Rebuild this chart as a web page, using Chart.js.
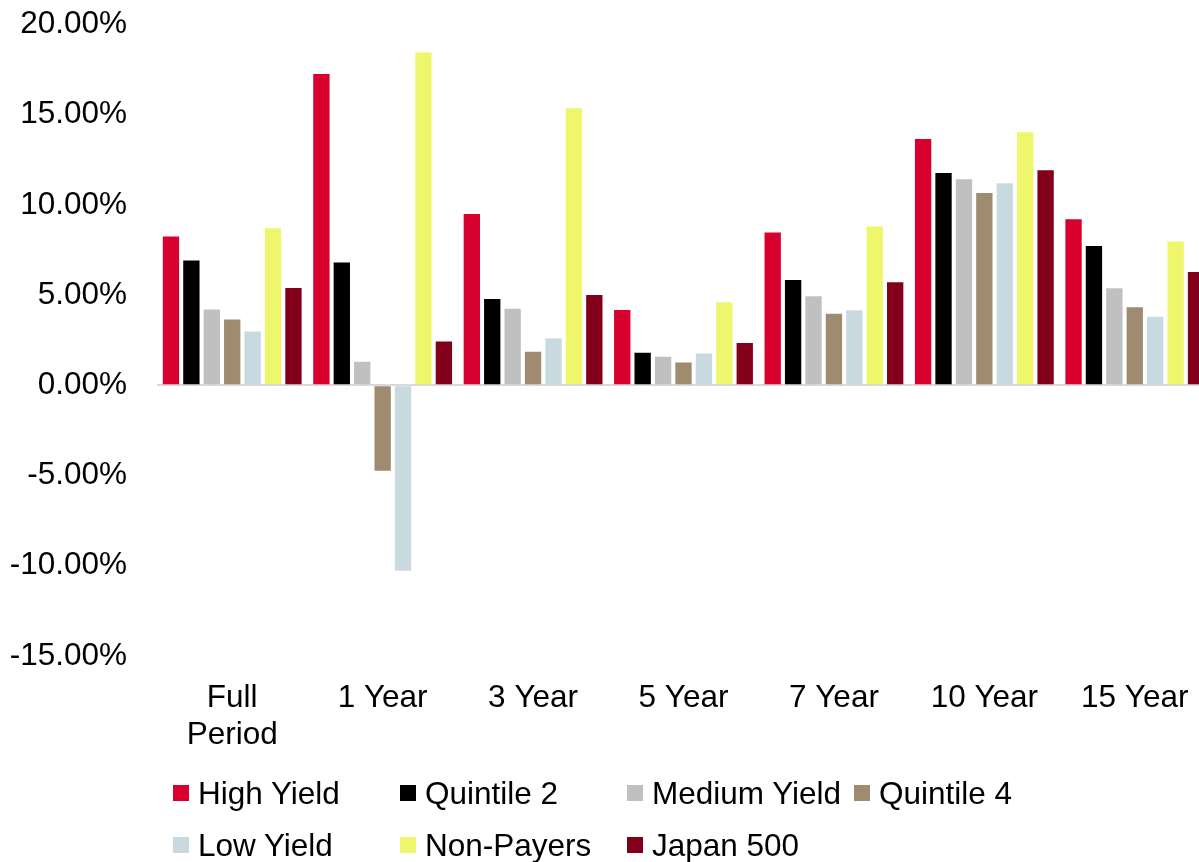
<!DOCTYPE html>
<html>
<head>
<meta charset="utf-8">
<script src="https://cdn.jsdelivr.net/npm/chart.js@4/dist/chart.umd.min.js"></script>
<style>
  html, body { margin: 0; padding: 0; background: #fff; overflow: hidden; }
  #wrap { position: absolute; left: 0; top: -24px; width: 1214px; height: 794px; }
  #legend {
    position: absolute; left: 173px; top: 767px;
    display: grid; grid-template-columns: repeat(4, 227px);
    font-family: "Liberation Sans", Arial, sans-serif; font-size: 31.5px; color: #000;
  }
  #legend .item { display: flex; align-items: center; height: 52px; white-space: nowrap; }
  #legend .box { width: 16px; height: 16px; margin-right: 9px; flex: none; }
</style>
</head>
<body>
<div id="wrap"><canvas id="myChart" width="1214" height="794"></canvas></div>
<div id="legend"></div>
<script>
// periods along the x axis
const categories = [['Full', 'Period'], '1 Year', '3 Year', '5 Year', '7 Year', '10 Year', '15 Year'];

// annualised returns, percent
const highYield   = [8.25, 17.25, 9.49, 4.18, 8.47, 13.65, 9.21];
const quintile2   = [6.92, 6.81, 4.79, 1.80, 5.84, 11.77, 7.72];
const mediumYield = [4.20, 1.31, 4.24, 1.58, 4.94, 11.42, 5.38];
const quintile4   = [3.65, -4.74, 1.86, 1.27, 3.96, 10.66, 4.33];
const lowYield    = [2.98, -10.28, 2.60, 1.77, 4.16, 11.20, 3.80];
const nonPayers   = [8.71, 18.45, 15.36, 4.60, 8.80, 14.03, 7.97];
const japan500    = [5.39, 2.43, 5.01, 2.34, 5.71, 11.92, 6.28];

const seriesNames = ['High Yield', 'Quintile 2', 'Medium Yield', 'Quintile 4', 'Low Yield', 'Non-Payers', 'Japan 500'];
const seriesData = [highYield, quintile2, mediumYield, quintile4, lowYield, nonPayers, japan500];
const colors = ['#d7002e', '#000000', '#c0c0c0', '#9e8b70', '#c8dae0', '#eef76b', '#820019'];

// y axis: -15% to 20% in 5% steps
const yTicks = [-15, -10, -5, 0, 5, 10, 15, 20];

const font = { family: '"Liberation Sans", Arial, sans-serif', size: 31.5, lineHeight: 1.17 };

const ctx = document.getElementById('myChart');

new Chart(ctx, {
  type: 'bar',
  data: {
    labels: categories,
    datasets: seriesNames.map((name, i) => ({
      label: name,
      data: seriesData[i],
      backgroundColor: colors[i],
      borderWidth: 0,
      categoryPercentage: 0.95,
      barPercentage: 0.8
    }))
  },
  options: {
    responsive: false,
    animation: false,
    devicePixelRatio: 1,
    layout: { padding: { top: 0, right: 4, left: 0, bottom: 0 } },
    plugins: {
      legend: { display: false },
      tooltip: { enabled: false }
    },
    scales: {
      x: {
        grid: { display: false, drawTicks: false },
        border: { display: false },
        ticks: { color: '#000', font: font, padding: 24, maxRotation: 0, autoSkip: false },
        afterFit: s => { s.height = 114; }
      },
      y: {
        min: yTicks[0],
        max: yTicks[yTicks.length - 1],
        afterBuildTicks: s => { s.ticks = yTicks.map(v => ({ value: v })); },
        grid: {
          drawTicks: false,
          color: c => (c.tick && c.tick.value === 0 ? '#d9d9d9' : 'rgba(0,0,0,0)'),
          lineWidth: 2
        },
        border: { display: false },
        ticks: {
          color: '#000', font: font, padding: 30,
          callback: v => v.toFixed(2) + '%'
        },
        afterFit: s => { s.width = 157; }
      }
    }
  }
});

// legend laid out in fixed columns under the chart
const legend = document.getElementById('legend');
seriesNames.forEach((name, i) => {
  const item = document.createElement('div');
  item.className = 'item';
  const box = document.createElement('span');
  box.className = 'box';
  box.style.background = colors[i];
  item.appendChild(box);
  item.appendChild(document.createTextNode(name));
  legend.appendChild(item);
});
</script>
</body>
</html>
